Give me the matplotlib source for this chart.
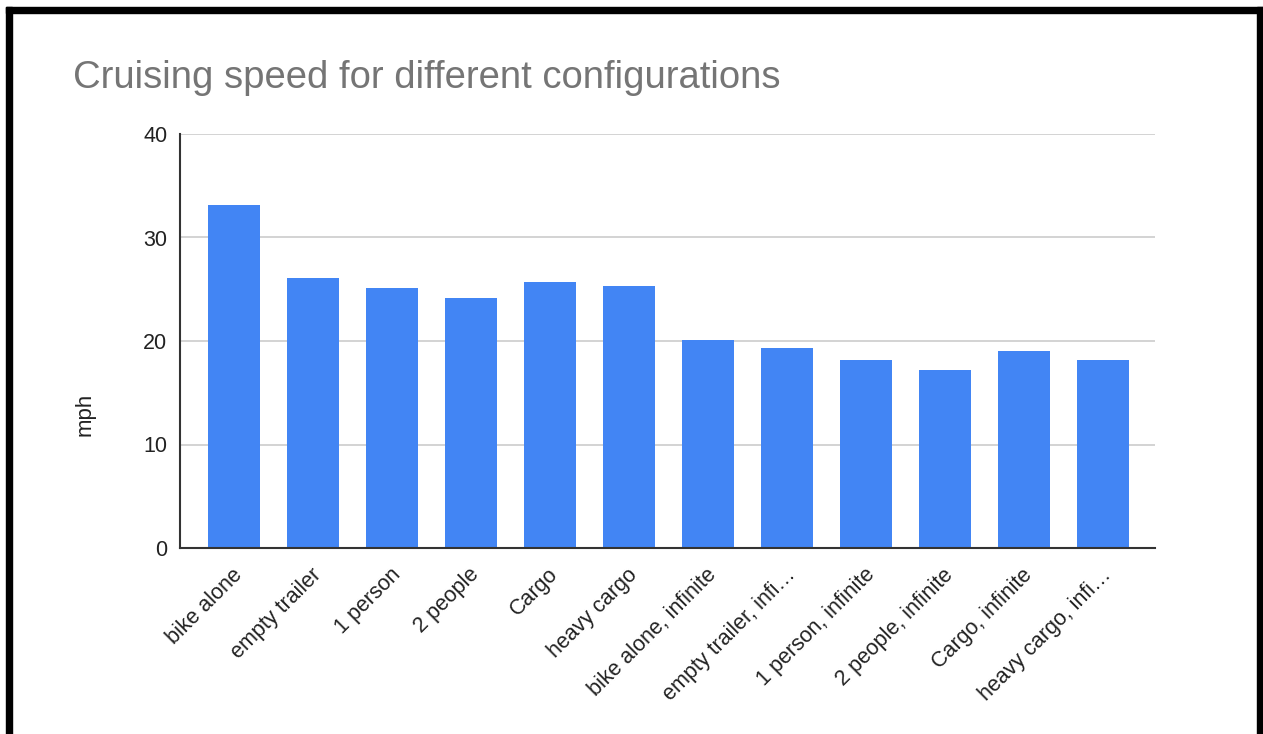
import matplotlib
matplotlib.use("Agg")
import matplotlib.pyplot as plt
from matplotlib.patches import Rectangle
import matplotlib.transforms as mtransforms

categories = ["bike alone", "empty trailer", "1 person", "2 people", "Cargo",
              "heavy cargo", "bike alone, infinite", "empty trailer, infi…",
              "1 person, infinite", "2 people, infinite", "Cargo, infinite",
              "heavy cargo, infi…"]
speeds = [33.1, 26.1, 25.1, 24.2, 25.7, 25.35, 20.1, 19.3, 18.2, 17.15, 19.0, 18.2]
yticks = [0, 10, 20, 30, 40]

W, H = 1263, 734
plt.rcParams['font.family'] = ['Liberation Sans', 'DejaVu Sans']
fig = plt.figure(figsize=(W / 100, H / 100), dpi=100)
fig.patch.set_facecolor('white')

ax = fig.add_axes([180 / W, 1 - 548 / H, (1155 - 180) / W, (548 - 134) / H])
x = list(range(len(categories)))
ax.bar(x, speeds, width=0.66, color='#4285F4', zorder=3)

ax.set_xlim(-0.686, 11.654)
ax.set_ylim(0, 40)
ax.set_yticks(yticks)
ax.set_yticklabels([str(t) for t in yticks], fontsize=15.5, color='#222222')
ax.tick_params(axis='y', length=0, pad=9)
ax.grid(axis='y', color='#cccccc', linewidth=1.2, zorder=0)
ax.set_axisbelow(True)

ax.set_xticks(x)
ax.set_xticklabels(categories, rotation=45, ha='right', va='center',
                   rotation_mode='anchor', fontsize=15.5, color='#222222')
ax.tick_params(axis='x', length=0, pad=17)
offset = mtransforms.ScaledTranslation(5 / 100, 0, fig.dpi_scale_trans)
for lbl in ax.get_xticklabels():
    lbl.set_transform(lbl.get_transform() + offset)

for s in ['top', 'right']:
    ax.spines[s].set_visible(False)
for s in ['left', 'bottom']:
    ax.spines[s].set_color('#333333')
    ax.spines[s].set_linewidth(1.5)
    ax.spines[s].set_zorder(4)

fig.text(73 / W, 1 - 78 / H, "Cruising speed for different configurations",
         fontsize=27.5, color='#757575', va='center', ha='left')
fig.text(85 / W, 1 - 414 / H, "mph", fontsize=16, color='#222222',
         rotation=90, ha='center', va='center')

# black screenshot frame (top, left, right)
fig.add_artist(Rectangle((6 / W, 1 - 13 / H), 1, 6 / H, transform=fig.transFigure,
                         color='black', zorder=10))
fig.add_artist(Rectangle((6 / W, 0), 6 / W, 1 - 7 / H, transform=fig.transFigure,
                         color='black', zorder=10))
fig.add_artist(Rectangle((1257 / W, 0), 6 / W, 1 - 7 / H, transform=fig.transFigure,
                         color='black', zorder=10))

fig.savefig("out.png", dpi=100, facecolor='white')
